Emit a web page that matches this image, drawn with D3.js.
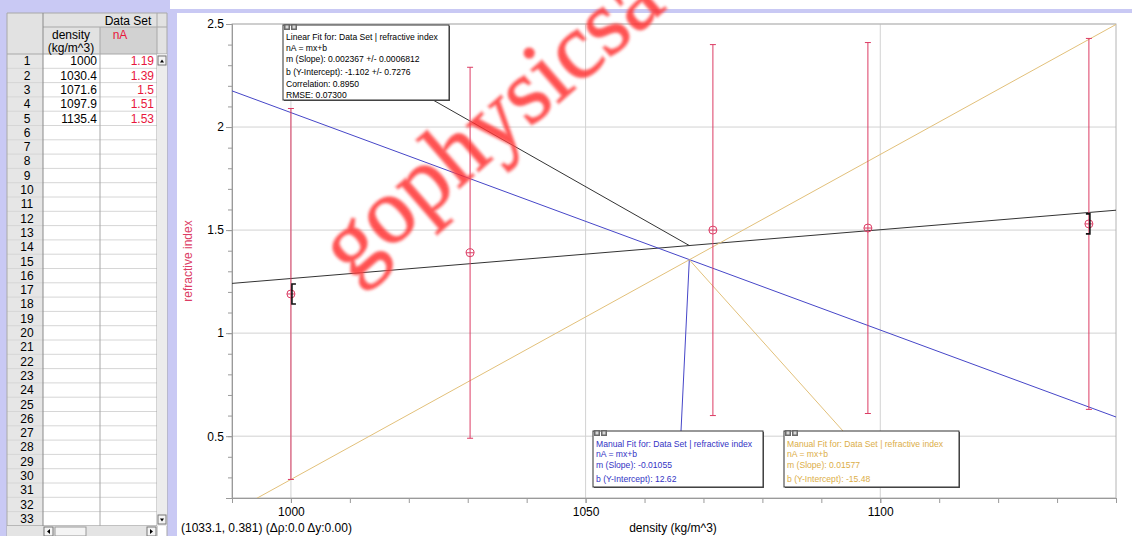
<!DOCTYPE html>
<html>
<head>
<meta charset="utf-8">
<script src="https://cdn.jsdelivr.net/npm/d3@7"></script>
<style>
body { margin: 0; background: #fff; overflow: hidden; }
svg { display: block; font-family: Arial, "Liberation Sans", sans-serif; }
</style>
</head>
<body>
<svg width="1132" height="536"></svg>
<script>
// data table values
const density = [1000, 1030.4, 1071.6, 1097.9, 1135.4];
const densityText = ["1000", "1030.4", "1071.6", "1097.9", "1135.4"];
const nA = [1.19, 1.39, 1.5, 1.51, 1.53];
const nAText = ["1.19", "1.39", "1.5", "1.51", "1.53"];
const nAError = [0.9, 0.9, 0.9, 0.9, 0.9];

// fits: linear (black), manual (blue), manual (gold)
const fitSlopes = [0.002367, -0.01055, 0.01577];
const fitIntercepts = [-1.102, 12.62, -15.48];
const fitColors = ["#333333", "#4646c8", "#e2c07a"];
const fitLabelX = 1067.6; // where the annotation leaders touch the lines

const xTicks = [1000, 1050, 1100];
const yTicks = [0.5, 1, 1.5, 2, 2.5];

const linearText = ["Linear Fit for: Data Set | refractive index", "nA = mx+b",
  "m (Slope): 0.002367 +/- 0.0006812", "b (Y-Intercept): -1.102 +/- 0.7276",
  "Correlation: 0.8950", "RMSE: 0.07300"];
const blueText = ["Manual Fit for: Data Set | refractive index", "nA = mx+b",
  "m (Slope): -0.01055", "b (Y-Intercept): 12.62"];
const goldText = ["Manual Fit for: Data Set | refractive index", "nA = mx+b",
  "m (Slope): 0.01577", "b (Y-Intercept): -15.48"];

const svg = d3.select("svg");
const lavender = "#c9c9f4";
const red = "#dc3c64";

// window frame
svg.append("rect").attr("width", 1132).attr("height", 536).attr("fill", lavender);
svg.append("rect").attr("x", 170).attr("y", 0).attr("width", 962).attr("height", 9).attr("fill", "#fff");
svg.append("rect").attr("x", 177).attr("y", 13).attr("width", 955).attr("height", 523).attr("fill", "#fff");

// ---------- data table ----------
const tb = svg.append("g");
const rowH = 14.3, row0 = 54;
tb.append("rect").attr("x", 7).attr("y", 13).attr("width", 160).attr("height", 523).attr("fill", "#fff");
tb.append("rect").attr("x", 7).attr("y", 13).attr("width", 160).attr("height", 41).attr("fill", "#e2e2e2");
tb.append("rect").attr("x", 100).attr("y", 27).attr("width", 57).attr("height", 27).attr("fill", "#d2d2d2");
tb.append("rect").attr("x", 7).attr("y", 54).attr("width", 36).attr("height", 482).attr("fill", "#e6e6e6");

const rows = d3.range(1, 34);
rows.forEach((r, i) => {
  const yy = row0 + i * rowH;
  tb.append("line").attr("x1", 7).attr("x2", 157).attr("y1", yy + rowH).attr("y2", yy + rowH)
    .attr("stroke", i < 32 ? "#d6d6d6" : "#9a9a9a");
  tb.append("text").attr("x", 27).attr("y", yy + rowH / 2).attr("dy", "0.35em")
    .attr("text-anchor", "middle").attr("font-size", 12).attr("fill", "#000").text(r);
});
density.forEach((d, i) => {
  const yy = row0 + i * rowH + rowH / 2;
  tb.append("text").attr("x", 97).attr("y", yy).attr("dy", "0.35em").attr("text-anchor", "end")
    .attr("font-size", 12).text(densityText[i]);
  tb.append("text").attr("x", 154).attr("y", yy).attr("dy", "0.35em").attr("text-anchor", "end")
    .attr("font-size", 12).attr("fill", "#e8173c").text(nAText[i]);
});
[[7, 13, 167, 13], [43, 27, 167, 27], [7, 54, 167, 54], [43, 13, 43, 526], [100, 27, 100, 526],
 [157, 13, 157, 536], [167, 13, 167, 536], [7, 13, 7, 536]].forEach(l => {
  tb.append("line").attr("x1", l[0]).attr("y1", l[1]).attr("x2", l[2]).attr("y2", l[3])
    .attr("stroke", l[0] === 43 && l[2] === 43 ? "#8a8a8a" : "#a8a8a8");
});
tb.append("text").attr("x", 128).attr("y", 20.5).attr("dy", "0.35em").attr("text-anchor", "middle")
  .attr("font-size", 12).text("Data Set");
tb.append("text").attr("x", 71).attr("y", 35).attr("dy", "0.35em").attr("text-anchor", "middle")
  .attr("font-size", 12).text("density");
tb.append("text").attr("x", 71).attr("y", 48).attr("dy", "0.35em").attr("text-anchor", "middle")
  .attr("font-size", 12).text("(kg/m^3)");
tb.append("text").attr("x", 120).attr("y", 35).attr("dy", "0.35em").attr("text-anchor", "middle")
  .attr("font-size", 12).attr("fill", "#e8173c").text("nA");
// scrollbars
tb.append("rect").attr("x", 157).attr("y", 54).attr("width", 10).attr("height", 472).attr("fill", "#ececec");
tb.append("rect").attr("x", 158).attr("y", 56).attr("width", 8).attr("height", 9).attr("fill", "#f4f4f4").attr("stroke", "#777");
tb.append("path").attr("d", "M160,62.5h4l-2,-3z").attr("fill", "#000");
tb.append("rect").attr("x", 158).attr("y", 515).attr("width", 8).attr("height", 9).attr("fill", "#f4f4f4").attr("stroke", "#777");
tb.append("path").attr("d", "M160,518.5h4l-2,3z").attr("fill", "#000");
tb.append("rect").attr("x", 7).attr("y", 526).attr("width", 150).attr("height", 10).attr("fill", "#e4e4e4");
tb.append("rect").attr("x", 44).attr("y", 527).attr("width", 9).attr("height", 9).attr("fill", "#f4f4f4").attr("stroke", "#777");
tb.append("path").attr("d", "M50,529v5l-3,-2.5z").attr("fill", "#000");
tb.append("rect").attr("x", 55).attr("y", 527).attr("width", 31).attr("height", 9).attr("fill", "#f4f4f4").attr("stroke", "#999");
tb.append("rect").attr("x", 147).attr("y", 527).attr("width", 9).attr("height", 9).attr("fill", "#f4f4f4").attr("stroke", "#777");
tb.append("path").attr("d", "M150,529v5l3,-2.5z").attr("fill", "#000");

// ---------- graph ----------
const x = d3.scaleLinear().domain([990, 1140]).range([232, 1116]);
const y = d3.scaleLinear().domain([0.2, 2.5]).range([498, 24]);

const defs = svg.append("defs");
defs.append("clipPath").attr("id", "plot")
  .append("rect").attr("x", 232).attr("y", 24).attr("width", 884).attr("height", 474);
defs.append("filter").attr("id", "soft").append("feGaussianBlur").attr("stdDeviation", 1.1);

const gridC = "#d2d2d2";
svg.append("g").selectAll("line").data(yTicks).join("line")
  .attr("x1", 232).attr("x2", 1116).attr("y1", d => y(d)).attr("y2", d => y(d)).attr("stroke", gridC);
svg.append("g").selectAll("line").data(xTicks).join("line")
  .attr("y1", 24).attr("y2", 498).attr("x1", d => x(d)).attr("x2", d => x(d)).attr("stroke", gridC);
svg.append("rect").attr("x", 232).attr("y", 24).attr("width", 884).attr("height", 474)
  .attr("fill", "none").attr("stroke", "#b4b4b4");

// axes
const axisC = "#9a9a9a";
function styleAxis(g) {
  g.select(".domain").attr("stroke", axisC);
  g.selectAll(".tick line").attr("stroke", axisC);
  g.selectAll(".tick text").attr("fill", "#000").attr("font-size", 12)
    .attr("font-family", "Arial, 'Liberation Sans', sans-serif");
}
svg.append("g").attr("transform", "translate(232,0)")
  .call(d3.axisLeft(y).tickValues(d3.range(3, 26).map(d => d / 10)).tickSize(4).tickFormat(""))
  .call(styleAxis);
svg.append("g").attr("transform", "translate(232,0)")
  .call(d3.axisLeft(y).tickValues(yTicks).tickSize(6).tickPadding(2).tickFormat(d => String(d)))
  .call(styleAxis);
svg.append("g").attr("transform", "translate(0,498)")
  .call(d3.axisBottom(x).tickValues(d3.range(99, 115).map(d => d * 10)).tickSize(5).tickFormat(""))
  .call(styleAxis);
svg.append("g").attr("transform", "translate(0,498)")
  .call(d3.axisBottom(x).tickValues(xTicks).tickSize(5).tickPadding(4).tickFormat(d => String(d)))
  .call(styleAxis);

svg.append("text").attr("transform", "translate(192,261) rotate(-90)").attr("text-anchor", "middle")
  .attr("font-size", 12).attr("fill", red).text("refractive index");
svg.append("text").attr("x", 673).attr("y", 532).attr("text-anchor", "middle")
  .attr("font-size", 12).attr("fill", "#000").text("density (kg/m^3)");
svg.append("text").attr("x", 181).attr("y", 532).attr("font-size", 12).attr("fill", "#000")
  .text("(1033.1, 0.381) (\u0394\u03c1:0.0 \u0394y:0.00)");

// fit lines and leaders
const plot = svg.append("g").attr("clip-path", "url(#plot)");
const fitY = (i, v) => fitSlopes[i] * v + fitIntercepts[i];
fitSlopes.forEach((m, i) => {
  plot.append("line")
    .attr("x1", x(990)).attr("y1", y(fitY(i, 990)))
    .attr("x2", x(1140)).attr("y2", y(fitY(i, 1140)))
    .attr("stroke", fitColors[i]).attr("stroke-width", 1);
});
const leaderEnds = [[433, 100], [681, 431], [843, 431]];
leaderEnds.forEach((p, i) => {
  plot.append("line").attr("x1", x(fitLabelX)).attr("y1", y(fitY(i, fitLabelX)))
    .attr("x2", p[0]).attr("y2", p[1]).attr("stroke", fitColors[i]).attr("stroke-width", 1);
});

// error bars and points
const pts = plot.append("g").attr("stroke", red).attr("fill", "none");
density.forEach((d, i) => {
  const cx = x(d);
  pts.append("line").attr("x1", cx).attr("x2", cx)
    .attr("y1", y(nA[i] - nAError[i])).attr("y2", y(nA[i] + nAError[i]));
  [nA[i] - nAError[i], nA[i] + nAError[i]].forEach(v => {
    pts.append("line").attr("x1", cx - 3).attr("x2", cx + 3).attr("y1", y(v)).attr("y2", y(v));
  });
  pts.append("circle").attr("cx", cx).attr("cy", y(nA[i])).attr("r", 4);
  pts.append("line").attr("x1", cx - 4).attr("x2", cx + 4).attr("y1", y(nA[i])).attr("y2", y(nA[i]));
});

// fit range brackets at first and last point
[[0, 1], [density.length - 1, -1]].forEach(([i, dir]) => {
  const bx = x(density[i]) + 1, by = y(nA[i]);
  plot.append("path")
    .attr("d", `M${bx + dir * 4},${by - 10}H${bx}V${by + 10}H${bx + dir * 4}`)
    .attr("fill", "none").attr("stroke", "#111").attr("stroke-width", 1.6);
});

// annotation boxes
function box(x0, y0, w, h, lines, color, lineY) {
  const g = svg.append("g");
  g.append("rect").attr("x", x0 + 1).attr("y", y0 + 1).attr("width", w).attr("height", h).attr("fill", "#555");
  g.append("rect").attr("x", x0).attr("y", y0).attr("width", w).attr("height", h)
    .attr("fill", "#fff").attr("stroke", "#333");
  [0, 7].forEach(dx => {
    g.append("rect").attr("x", x0 + 1 + dx).attr("y", y0 - 1).attr("width", 6).attr("height", 6)
      .attr("fill", "#6a6a6a");
    g.append("rect").attr("x", x0 + 2.5 + dx).attr("y", y0 + 0.5).attr("width", 3).attr("height", 3)
      .attr("fill", "#d8d8d8");
  });
  lines.forEach((t, j) => {
    g.append("text").attr("x", x0 + 3).attr("y", y0 + lineY[j]).attr("dy", "0.35em")
      .attr("font-size", 8.6).attr("fill", color).text(t);
  });
}
box(283, 25, 166, 75, linearText, "#000", [12, 22.5, 34, 47, 59, 69.5]);
box(593, 431, 170, 56, blueText, "#3333c4", [13, 23, 34, 48]);
box(784, 431, 175, 56, goldText, "#dcae48", [13, 23, 34, 48]);

// watermark
svg.append("text").attr("transform", "translate(352,282) rotate(-41)")
  .attr("font-family", "'Liberation Serif', 'Times New Roman', serif").attr("font-size", 94)
  .attr("fill", "#ff2828").attr("fill-opacity", 0.8).attr("stroke", "#ff6060").attr("stroke-opacity", 0.45)
  .attr("stroke-width", 3).attr("filter", "url(#soft)").text("gophysicsa");
</script>
</body>
</html>
